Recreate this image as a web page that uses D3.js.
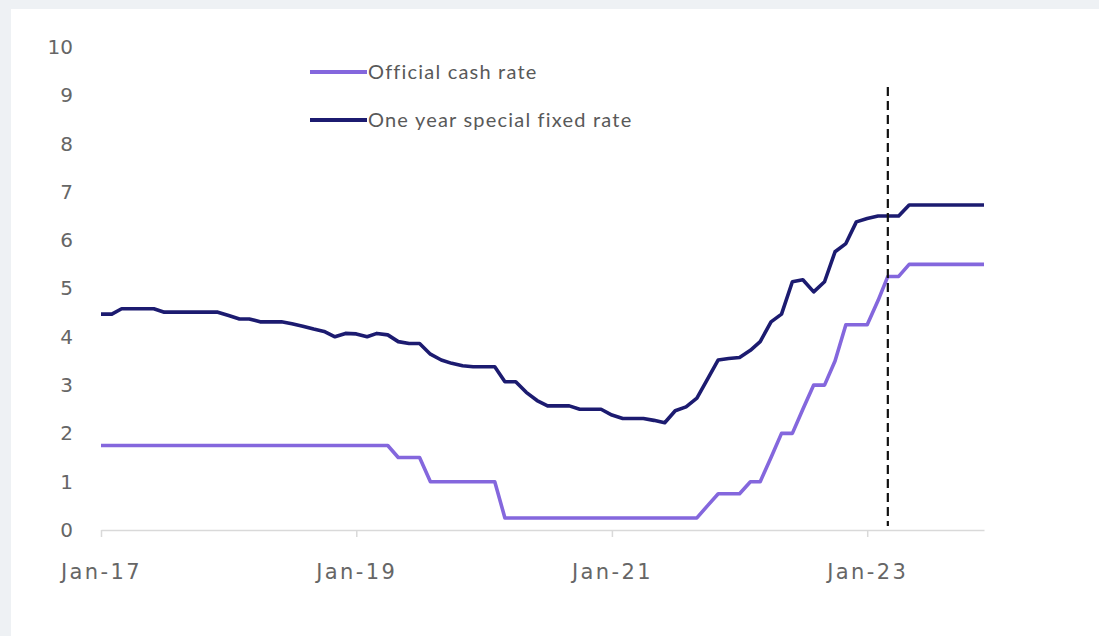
<!DOCTYPE html>
<html>
<head>
<meta charset="utf-8">
<script src="https://cdn.jsdelivr.net/npm/d3@7"></script>
<style>
  html, body { margin: 0; padding: 0; background: #eef1f4; }
  svg { display: block; }
</style>
</head>
<body>
<svg id="chart" width="1099" height="636"></svg>
<script>
// Monthly series, Jan-2017 to Dec-2023 (84 months)
const startMonth = new Date(2017, 0, 1);
const endMonth = new Date(2023, 11, 1);

const officialCashRate = [
  1.75, 1.75, 1.75, 1.75, 1.75, 1.75, 1.75, 1.75, 1.75, 1.75, 1.75, 1.75, // 2017
  1.75, 1.75, 1.75, 1.75, 1.75, 1.75, 1.75, 1.75, 1.75, 1.75, 1.75, 1.75, // 2018
  1.75, 1.75, 1.75, 1.75, 1.5, 1.5, 1.5, 1.0, 1.0, 1.0, 1.0, 1.0,       // 2019
  1.0, 1.0, 0.25, 0.25, 0.25, 0.25, 0.25, 0.25, 0.25, 0.25, 0.25, 0.25, // 2020
  0.25, 0.25, 0.25, 0.25, 0.25, 0.25, 0.25, 0.25, 0.25, 0.5, 0.75, 0.75, // 2021
  0.75, 1.0, 1.0, 1.5, 2.0, 2.0, 2.5, 3.0, 3.0, 3.5, 4.25, 4.25,        // 2022
  4.25, 4.75, 5.25, 5.25, 5.5, 5.5, 5.5, 5.5, 5.5, 5.5, 5.5, 5.5         // 2023
];

const oneYearFixedRate = [
  4.47, 4.47, 4.58, 4.58, 4.58, 4.58, 4.51, 4.51, 4.51, 4.51, 4.51, 4.51, // 2017
  4.44, 4.37, 4.37, 4.31, 4.31, 4.31, 4.27, 4.22, 4.16, 4.11, 4.0, 4.07,  // 2018
  4.06, 4.0, 4.07, 4.04, 3.9, 3.86, 3.86, 3.64, 3.52, 3.45, 3.40, 3.38,   // 2019
  3.38, 3.38, 3.07, 3.07, 2.85, 2.68, 2.57, 2.57, 2.57, 2.5, 2.5, 2.5,    // 2020
  2.38, 2.31, 2.31, 2.31, 2.27, 2.22, 2.47, 2.55, 2.73, 3.12, 3.52, 3.55, // 2021
  3.57, 3.72, 3.90, 4.31, 4.47, 5.14, 5.18, 4.93, 5.14, 5.76, 5.93, 6.38, // 2022
  6.45, 6.50, 6.50, 6.50, 6.73, 6.73, 6.73, 6.73, 6.73, 6.73, 6.73, 6.73  // 2023
];

const yTicks = [0, 1, 2, 3, 4, 5, 6, 7, 8, 9, 10];
const xTickDates = [new Date(2017, 0, 1), new Date(2019, 0, 1), new Date(2021, 0, 1), new Date(2023, 0, 1)];
const markerDate = new Date(2023, 2, 1);

const seriesNames = ["Official cash rate", "One year special fixed rate"];
const seriesColors = ["#8467dd", "#1c1b70"];

const months = d3.timeMonth.range(startMonth, d3.timeMonth.offset(endMonth, 1));
const fmt = d3.timeFormat("%b-%y");

const svg = d3.select("#chart");

// white card
svg.append("rect")
  .attr("x", 11).attr("y", 9)
  .attr("width", 1099).attr("height", 640)
  .attr("fill", "#ffffff");

const x = d3.scaleTime().domain([startMonth, endMonth]).range([101, 984]);
const y = d3.scaleLinear().domain([0, 10]).range([530, 47]);

// y labels (no axis line)
const yAxis = d3.axisLeft(y).tickValues(yTicks).tickSize(0).tickPadding(0).tickFormat(d3.format("d"));
const gy = svg.append("g").attr("transform", "translate(73,0)").call(yAxis);
gy.select(".domain").remove();
gy.selectAll("text")
  .attr("fill", "#666666")
  .style("font-family", "'DejaVu Sans', sans-serif")
  .style("font-size", "20px");

// x axis
const xAxis = d3.axisBottom(x).tickValues(xTickDates).tickSize(7).tickPadding(27).tickFormat(fmt).tickSizeOuter(0);
const gx = svg.append("g").attr("transform", "translate(0,530)").call(xAxis);
gx.select(".domain").attr("stroke", "#d9d9d9").attr("stroke-width", 1.5);
gx.selectAll(".tick line").attr("stroke", "#d9d9d9").attr("stroke-width", 1.5);
gx.selectAll("text")
  .attr("fill", "#666666")
  .style("font-family", "'DejaVu Sans', sans-serif")
  .style("font-size", "21px")
  .style("letter-spacing", "2.4px");

// series lines
const line = d3.line()
  .x((d, i) => x(months[i]))
  .y(d => y(d));

[officialCashRate, oneYearFixedRate].forEach((values, k) => {
  svg.append("path")
    .datum(values)
    .attr("fill", "none")
    .attr("stroke", seriesColors[k])
    .attr("stroke-width", 3.6)
    .attr("stroke-linejoin", "round")
    .attr("d", line);
});

// vertical dashed marker
svg.append("line")
  .attr("x1", x(markerDate)).attr("x2", x(markerDate))
  .attr("y1", 87).attr("y2", 526)
  .attr("stroke", "#111111")
  .attr("stroke-width", 2.2)
  .attr("stroke-dasharray", "9,5");

// legend
const legend = svg.append("g");
seriesNames.forEach((name, k) => {
  const ly = 72 + k * 48;
  legend.append("line")
    .attr("x1", 310).attr("x2", 367)
    .attr("y1", ly).attr("y2", ly)
    .attr("stroke", seriesColors[k])
    .attr("stroke-width", 4);
  legend.append("text")
    .attr("x", 368).attr("y", ly)
    .attr("dy", "0.35em")
    .attr("fill", "#595959")
    .style("font-family", "Lato, sans-serif")
    .style("font-size", "20px")
    .style("letter-spacing", "1.2px")
    .text(name);
});
</script>
</body>
</html>
